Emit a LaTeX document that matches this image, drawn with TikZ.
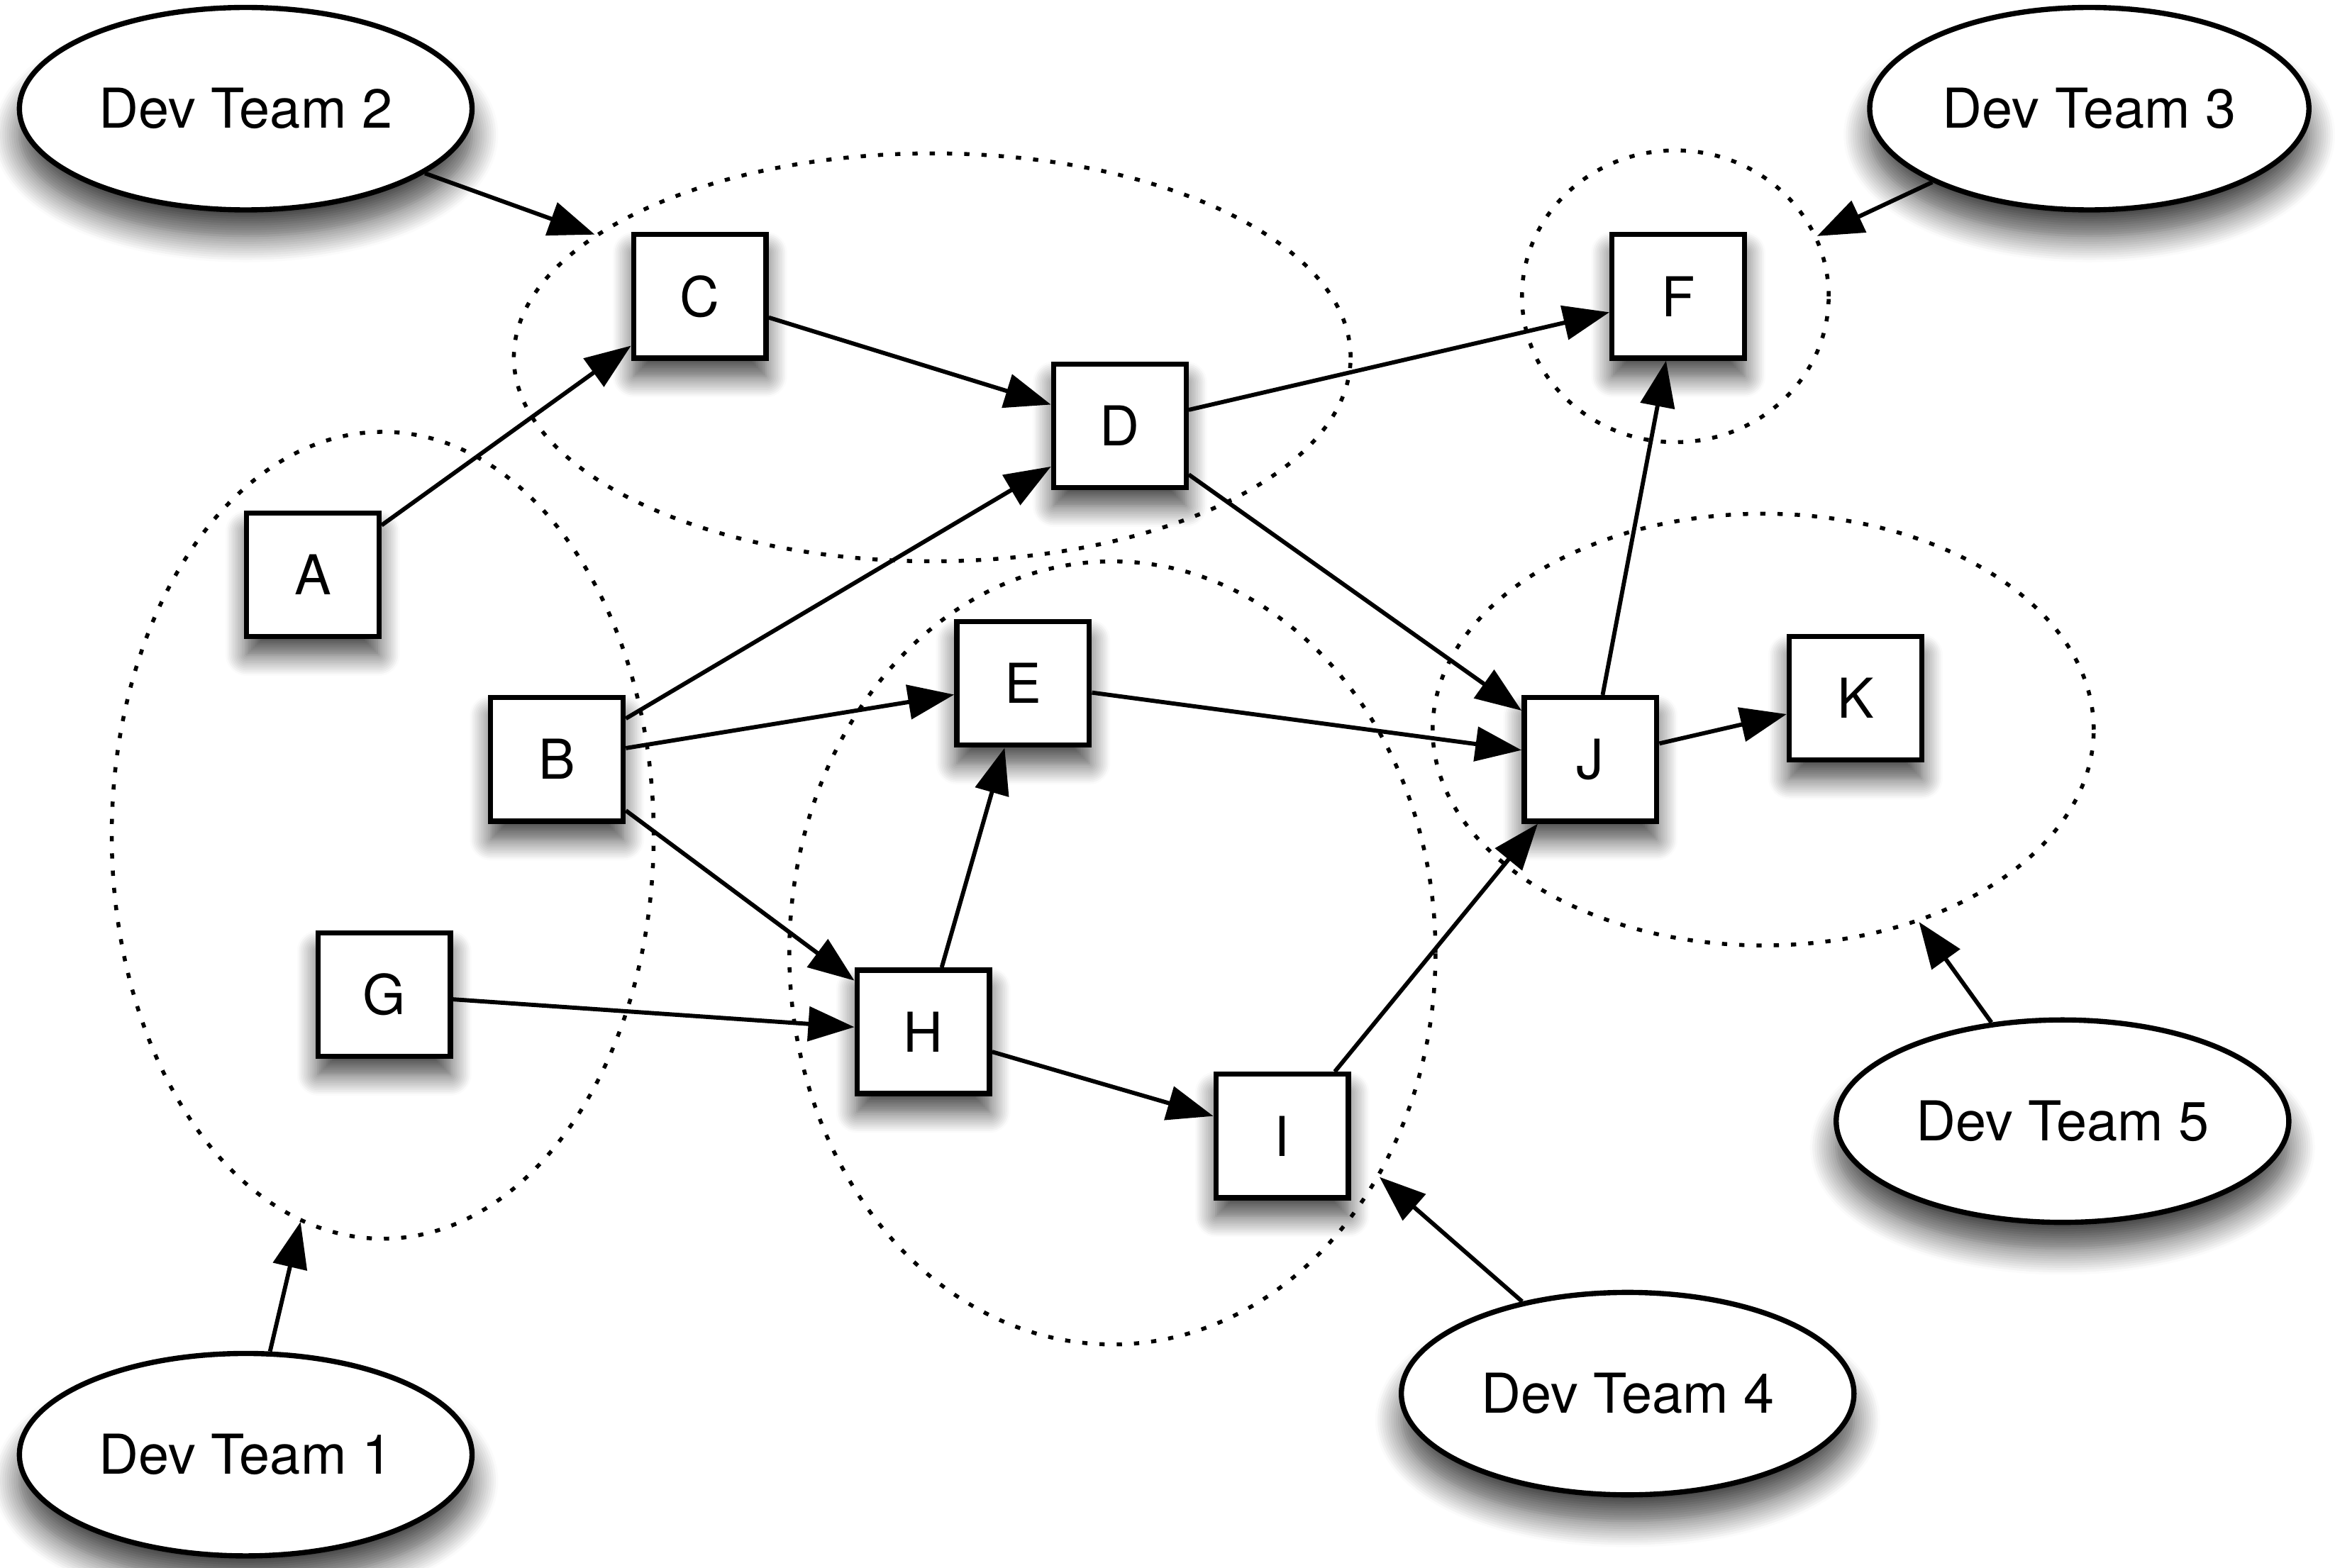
\documentclass[tikz,border=0pt]{standalone}
\usepackage{fontspec}
\setmainfont{TeX Gyre Heros}
\usetikzlibrary{shapes.geometric,arrows.meta,shadows.blur}
\begin{document}
\begin{tikzpicture}[x=0.02cm,y=-0.02cm,
  every node/.style={font=\fontsize{21}{25}\selectfont},
  task/.style={draw,line width=2pt,fill=white,minimum width=1.78cm,minimum height=1.66cm,inner sep=0pt,
    blur shadow={shadow xshift=0pt,shadow yshift=-7pt,shadow blur radius=8pt,shadow blur steps=12,shadow opacity=75}},
  team/.style={ellipse,draw,line width=2pt,fill=white,minimum width=6.08cm,minimum height=2.72cm,inner sep=0pt,
    blur shadow={shadow xshift=0pt,shadow yshift=-10pt,shadow blur radius=10pt,shadow blur steps=12,shadow opacity=75}},
  group/.style={ellipse,draw,line width=1.5pt,dash pattern=on 2pt off 4.6pt,inner sep=0pt},
  link/.style={line width=1.6pt,-{Triangle[length=0.62cm,width=0.46cm]}}]
\useasboundingbox (0,0) rectangle (1568,1053);
% groups
\node[group,minimum width=7.28cm,minimum height=10.84cm] (g1) at (257,561) {};
\node[group,minimum width=11.24cm,minimum height=5.48cm] (g2) at (626,240) {};
\node[group,minimum width=4.12cm,minimum height=3.92cm] (g3) at (1125,199) {};
\node[group,minimum width=8.68cm,minimum height=10.52cm] (g4) at (747,640) {};
\node[group,minimum width=8.88cm,minimum height=5.8cm] (g5) at (1184,490) {};
% tasks
\node[task] (A) at (210,386) {A};
\node[task] (B) at (374,510) {B};
\node[task] (C) at (470,199) {C};
\node[task] (D) at (752,286) {D};
\node[task] (E) at (687,459) {E};
\node[task] (F) at (1127,199) {F};
\node[task] (G) at (258,668) {G};
\node[task] (H) at (620,693) {H};
\node[task] (I) at (861,763) {I};
\node[task] (J) at (1068,510) {J};
\node[task] (K) at (1246,469) {K};
% teams
\node[team] (t1) at (165,977) {Dev Team 1};
\node[team] (t2) at (165,73) {Dev Team 2};
\node[team,minimum width=5.9cm] (t3) at (1403,73) {Dev Team 3};
\node[team] (t4) at (1093,936) {Dev Team 4};
\node[team] (t5) at (1385,753) {Dev Team 5};
% links
\draw[link] (A) -- (C);
\draw[link] (C) -- (D);
\draw[link] (D) -- (F);
\draw[link] (D) -- (J);
\draw[link] (B) -- (D);
\draw[link] (B) -- (E);
\draw[link] (B) -- (H);
\draw[link] (E) -- (J);
\draw[link] (H) -- (E);
\draw[link] (G) -- (H);
\draw[link] (H) -- (I);
\draw[link] (I) -- (J);
\draw[link] (J) -- (F);
\draw[link] (J) -- (K);
% team arrows
\draw[link] (t1) -- (g1.258);
\draw[link] (t2) -- (g2.160);
\draw[link] (t3) -- (g3.23);
\draw[link] (t4) -- (g4.320);
\draw[link] (t5) -- (g5.309);
\end{tikzpicture}
\end{document}
